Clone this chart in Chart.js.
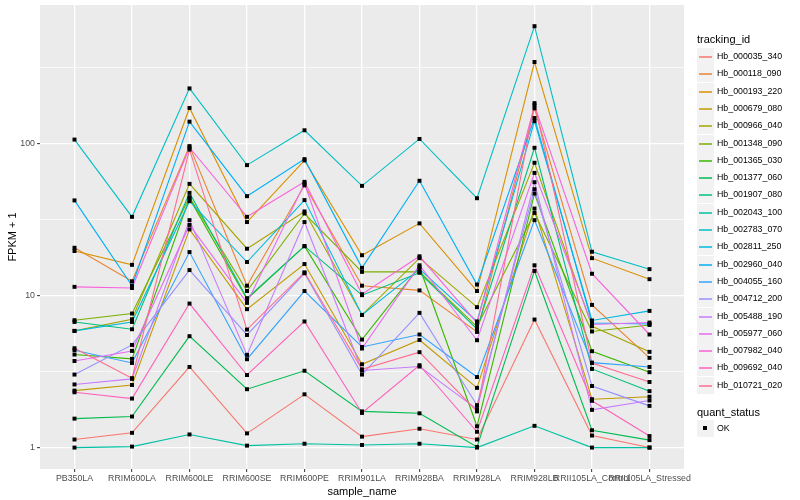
<!DOCTYPE html>
<html>
<head>
<meta charset="utf-8">
<script src="https://cdn.jsdelivr.net/npm/chart.js@4.4.1/dist/chart.umd.min.js"></script>
<style>
  body { margin: 0; background: #fff; font-family: "Liberation Sans", Arial, sans-serif; }
  #wrap { position: relative; width: 800px; height: 500px; }
  #chart { position: absolute; left: 0; top: 0; }
  .lg-title { position: absolute; left: 697px; font-size: 11px; line-height: 14px; color: #000; white-space: nowrap; }
  .row { position: absolute; left: 697px; height: 17px; width: 100px; }
  .key { position: absolute; left: 0; top: 0; width: 17px; height: 17px; background: #F2F2F2; }
  .key .ln { position: absolute; left: 2px; width: 13px; top: 8px; height: 2px; opacity: 0.75; }
  .key .pt { position: absolute; left: 6px; top: 6px; width: 4px; height: 4px; background: #000; }
  .txt { position: absolute; left: 20px; top: 0; line-height: 17px; font-size: 8.8px; color: #000; white-space: nowrap; }
</style>
</head>
<body>
<div id="wrap">
  <canvas id="chart" width="800" height="500"></canvas>
  <div id="legend"></div>
</div>
<script>
// sample names on the x axis
const categories = ['PB350LA', 'RRIM600LA', 'RRIM600LE', 'RRIM600SE', 'RRIM600PE', 'RRIM901LA',
  'RRIM928BA', 'RRIM928LA', 'RRIM928LB', 'RRII105LA_Control', 'RRII105LA_Stressed'];

// FPKM + 1, one array per gene, same order as categories
const hb_000035_340 = [1.13, 1.25, 3.39, 1.24, 2.24, 1.18, 1.33, 1.13, 6.95, 1.2, 1.0];
const hb_000118_090 = [20.6, 12.4, 96, 11.6, 53, 11.6, 10.8, 5.76, 170, 8.67, 3.89];
const hb_000193_220 = [19.6, 15.9, 171, 30.4, 77.3, 18.4, 29.8, 10.7, 343, 17.6, 12.8];
const hb_000679_080 = [2.37, 2.58, 27.2, 8.13, 16.1, 3.53, 5.1, 2.47, 37.3, 2.08, 2.16];
const hb_000966_040 = [5.85, 6.98, 54.2, 20.3, 35.7, 7.45, 17.6, 8.38, 74.6, 6.28, 4.26];
const hb_001348_090 = [6.88, 7.61, 44.3, 10.7, 34.6, 14.3, 14.3, 6.25, 34.9, 5.8, 6.4];
const hb_001365_030 = [4.09, 3.83, 43.5, 9.46, 21.1, 5.13, 15.4, 1.38, 46.8, 4.3, 3.13];
const hb_001377_060 = [1.55, 1.6, 5.4, 2.42, 3.2, 1.73, 1.68, 1.01, 14.5, 1.3, 1.12];
const hb_001907_080 = [6.7, 6.0, 47.3, 9.6, 21.1, 10.05, 14.1, 6.03, 93.6, 3.29, 2.35];
const hb_002043_100 = [1.0, 1.015, 1.22, 1.03, 1.06, 1.04, 1.06, 1.0, 1.39, 1.0, 1.0];
const hb_002783_070 = [106, 32.9, 230, 72, 122, 52.6, 107, 43.6, 590, 19.4, 14.9];
const hb_002811_250 = [5.85, 6.7, 41.7, 16.6, 42.4, 7.45, 14.9, 6.75, 140, 6.85, 7.92];
const hb_002960_040 = [42.2, 11.6, 139, 45, 78.8, 15.2, 56.8, 11.8, 147, 6.6, 6.5];
const hb_004055_160 = [4.37, 3.6, 19.3, 3.81, 10.7, 4.59, 5.54, 2.91, 31.3, 3.62, 3.39];
const hb_004712_200 = [3.02, 4.73, 14.7, 5.5, 14.0, 3.02, 7.69, 1.9, 50, 2.54, 1.88];
const hb_005488_190 = [2.6, 2.83, 31.3, 4.07, 30.4, 3.21, 3.41, 1.79, 55.6, 1.77, 2.04];
const hb_005977_060 = [3.71, 4.32, 29.1, 8.94, 54.6, 4.48, 15.8, 5.08, 64, 6.45, 6.64];
const hb_007982_040 = [11.4, 11.2, 94, 32.9, 55.9, 10.2, 18.1, 6.6, 178, 13.9, 5.54];
const hb_009692_040 = [2.31, 2.1, 8.85, 3.0, 6.75, 1.69, 3.48, 1.27, 15.8, 2.03, 1.19];
const hb_010721_020 = [4.5, 2.86, 91, 5.97, 14.2, 3.27, 4.24, 1.73, 184, 3.6, 2.7];

const trackingIds = ['Hb_000035_340', 'Hb_000118_090', 'Hb_000193_220', 'Hb_000679_080', 'Hb_000966_040',
  'Hb_001348_090', 'Hb_001365_030', 'Hb_001377_060', 'Hb_001907_080', 'Hb_002043_100',
  'Hb_002783_070', 'Hb_002811_250', 'Hb_002960_040', 'Hb_004055_160', 'Hb_004712_200',
  'Hb_005488_190', 'Hb_005977_060', 'Hb_007982_040', 'Hb_009692_040', 'Hb_010721_020'];
const seriesValues = [hb_000035_340, hb_000118_090, hb_000193_220, hb_000679_080, hb_000966_040,
  hb_001348_090, hb_001365_030, hb_001377_060, hb_001907_080, hb_002043_100,
  hb_002783_070, hb_002811_250, hb_002960_040, hb_004055_160, hb_004712_200,
  hb_005488_190, hb_005977_060, hb_007982_040, hb_009692_040, hb_010721_020];

// y axis breaks (log10), labels only on the major ones
const yBreaks = [1, 3.16228, 10, 31.6228, 100, 316.228];
const yLabels = [1, 10, 100];

// ggplot default hue palette for 20 groups
const palette = ['#F8766D', '#EA8331', '#D89000', '#C09B00', '#A3A500', '#7CAE00', '#39B600', '#00BB4E',
  '#00BF7D', '#00C1A3', '#00BFC4', '#00BAE0', '#00B0F6', '#35A2FF', '#9590FF', '#C77CFF',
  '#E76BF3', '#FA62DB', '#FF62BC', '#FF6C91'];

const family = '"Liberation Sans", Arial, sans-serif';
Chart.defaults.font.family = family;

const datasets = trackingIds.map((id, i) => ({
    label: id,
    data: seriesValues[i].map((v, j) => ({ x: j, y: v })),
    borderColor: palette[i],
    borderWidth: 1.1,
    pointRadius: 0,
    fill: false,
    tension: 0,
    order: 100 - i
}));
// quant_status = OK points, drawn on top
datasets.push({
    label: 'OK',
    data: seriesValues.flatMap(s => s.map((v, j) => ({ x: j, y: v }))),
    showLine: false,
    pointStyle: 'rect',
    pointRadius: 2.8,
    pointBackgroundColor: '#000000',
    pointBorderWidth: 0,
    order: 0
});

const panelBg = {
    id: 'panelBg',
    beforeDraw(chart) {
        const { ctx, chartArea: a } = chart;
        ctx.save();
        ctx.fillStyle = '#EBEBEB';
        ctx.fillRect(a.left, a.top, a.right - a.left, a.bottom - a.top);
        ctx.restore();
    }
};

new Chart(document.getElementById('chart'), {
    type: 'line',
    data: { datasets },
    plugins: [panelBg],
    options: {
        responsive: false,
        animation: false,
        layout: { padding: { left: 0, right: 116, top: 5, bottom: 0 } },
        plugins: {
            legend: { display: false },
            tooltip: { enabled: false }
        },
        scales: {
            x: {
                type: 'linear',
                bounds: 'data',
                min: -0.6,
                max: 10.6,
                afterBuildTicks: s => { s.ticks = categories.map((c, i) => ({ value: i })); },
                afterFit: s => { s.height = 31; s.paddingLeft = 0; s.paddingRight = 0; },
                ticks: {
                    autoSkip: false,
                    maxRotation: 0,
                    minRotation: 0,
                    padding: 1,
                    color: '#4D4D4D',
                    font: { size: 8.8 },
                    callback: v => categories[v]
                },
                grid: { color: '#FFFFFF', lineWidth: 1.3, tickLength: 3, tickColor: '#333333', tickWidth: 1 },
                border: { display: false },
                title: { display: true, text: 'sample_name', color: '#000', font: { size: 11 }, padding: { top: 0, bottom: 1 } }
            },
            y: {
                type: 'logarithmic',
                bounds: 'data',
                min: 0.723,
                max: 813,
                afterBuildTicks: s => { s.ticks = yBreaks.map(v => ({ value: v })); },
                afterFit: s => { s.width = 40; s.paddingTop = 0; s.paddingBottom = 0; },
                ticks: {
                    padding: 2,
                    color: '#4D4D4D',
                    font: { size: 8.8 },
                    callback: v => yLabels.includes(v) ? String(v) : ''
                },
                grid: {
                    color: '#FFFFFF',
                    lineWidth: c => yLabels.includes(c.tick && c.tick.value) ? 1.3 : 0.65,
                    tickLength: 3,
                    tickWidth: 1,
                    tickColor: c => yLabels.includes(c.tick && c.tick.value) ? '#333333' : 'rgba(0,0,0,0)'
                },
                border: { display: false },
                title: { display: true, text: 'FPKM + 1', color: '#000', font: { size: 11 }, padding: { top: 6, bottom: 0 } }
            }
        }
    }
});

// ggplot style legend
const lg = document.getElementById('legend');
let html = '<div class="lg-title" style="top:32px">tracking_id</div>';
trackingIds.forEach((id, i) => {
    html += '<div class="row" style="top:' + Math.round(48 + i * 17.3) + 'px">' +
        '<div class="key"><div class="ln" style="background:' + palette[i] + '"></div></div>' +
        '<div class="txt">' + id + '</div></div>';
});
html += '<div class="lg-title" style="top:405px">quant_status</div>';
html += '<div class="row" style="top:420px"><div class="key"><div class="pt"></div></div><div class="txt">OK</div></div>';
lg.innerHTML = html;
</script>
</body>
</html>
